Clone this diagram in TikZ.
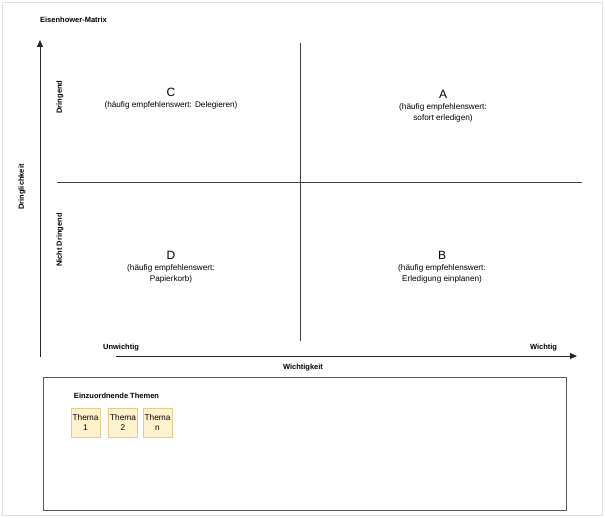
\documentclass[tikz,border=0pt]{standalone}
\usepackage{fontspec}
\setmainfont{Liberation Sans}
\usetikzlibrary{arrows.meta}
\definecolor{notefill}{HTML}{FFF2CC}
\definecolor{notedraw}{HTML}{E3CD8A}

\begin{document}
\begin{tikzpicture}[x=1pt, y=-1pt,
    lbl/.style={font=\fontsize{7.5}{9}\selectfont\bfseries, inner sep=0pt},
    quad/.style={align=center, font=\fontsize{8.2}{10.8}\selectfont, inner sep=0pt},
    axis/.style={line width=0.8pt, draw=black!85, -{Triangle[length=7pt,width=6pt]}},
    split/.style={line width=0.8pt, draw=black!75},
    thema/.style={draw=notedraw, fill=notefill, line width=0.8pt,
        minimum width=29pt, minimum height=29pt, inner sep=0pt, align=center,
        font=\fontsize{8.3}{9.5}\selectfont}]

    \useasboundingbox (0,0) rectangle (605,518);
    \draw[gray!25] (2,2) rectangle (602,515);

    \node[lbl] (title) at (73.5,20) {Eisenhower-Matrix};

    % axes
    \coordinate (yfoot) at (40,357);
    \coordinate (ytip) at (40,40);
    \coordinate (xfoot) at (116,356);
    \coordinate (xtip) at (577,356);
    \draw[axis] (yfoot) -- (ytip);
    \draw[axis] (xfoot) -- (xtip);

    \node[lbl, rotate=90] (ylabel) at (22,187) {Dringlichkeit};
    \node[lbl, rotate=90] (dring) at (60,97) {Dringend};
    \node[lbl, rotate=90] (ndring) at (60,240) {Nicht Dringend};
    \node[lbl] (unw) at (121,348) {Unwichtig};
    \node[lbl] (wich) at (543.5,348) {Wichtig};
    \node[lbl] (xlabel) at (303,368) {Wichtigkeit};

    % quadrants
    \coordinate (hl) at (57,182);
    \coordinate (hr) at (582,182);
    \coordinate (vt) at (300,43);
    \coordinate (vb) at (300,341);
    \draw[split] (hl) -- (hr);
    \draw[split] (vt) -- (vb);

    \node[quad] (qc) at (171,99) {{\fontsize{12}{13}\selectfont C}\\(häufig empfehlenswert: Delegieren)};
    \node[quad] (qa) at (443,106) {{\fontsize{12}{13}\selectfont A}\\(häufig empfehlenswert:\\sofort erledigen)};
    \node[quad] (qd) at (171,267) {{\fontsize{12}{13}\selectfont D}\\(häufig empfehlenswert:\\Papierkorb)};
    \node[quad] (qb) at (442,267) {{\fontsize{12}{13}\selectfont B}\\(häufig empfehlenswert:\\Erledigung einplanen)};

    % pool
    \node[draw=black!65, line width=0.8pt, minimum width=523pt, minimum height=133pt, inner sep=0pt] (pool) at (304.5,443.5) {};
    \node[lbl] (pooltitle) at (116.5,396) {Einzuordnende Themen};

    \foreach \n/\xx in {1/85.5, 2/123, n/157.5}
        \node[thema] (thema\n) at (\xx,422.5) {Thema\\\n};

\end{tikzpicture}
\end{document}
